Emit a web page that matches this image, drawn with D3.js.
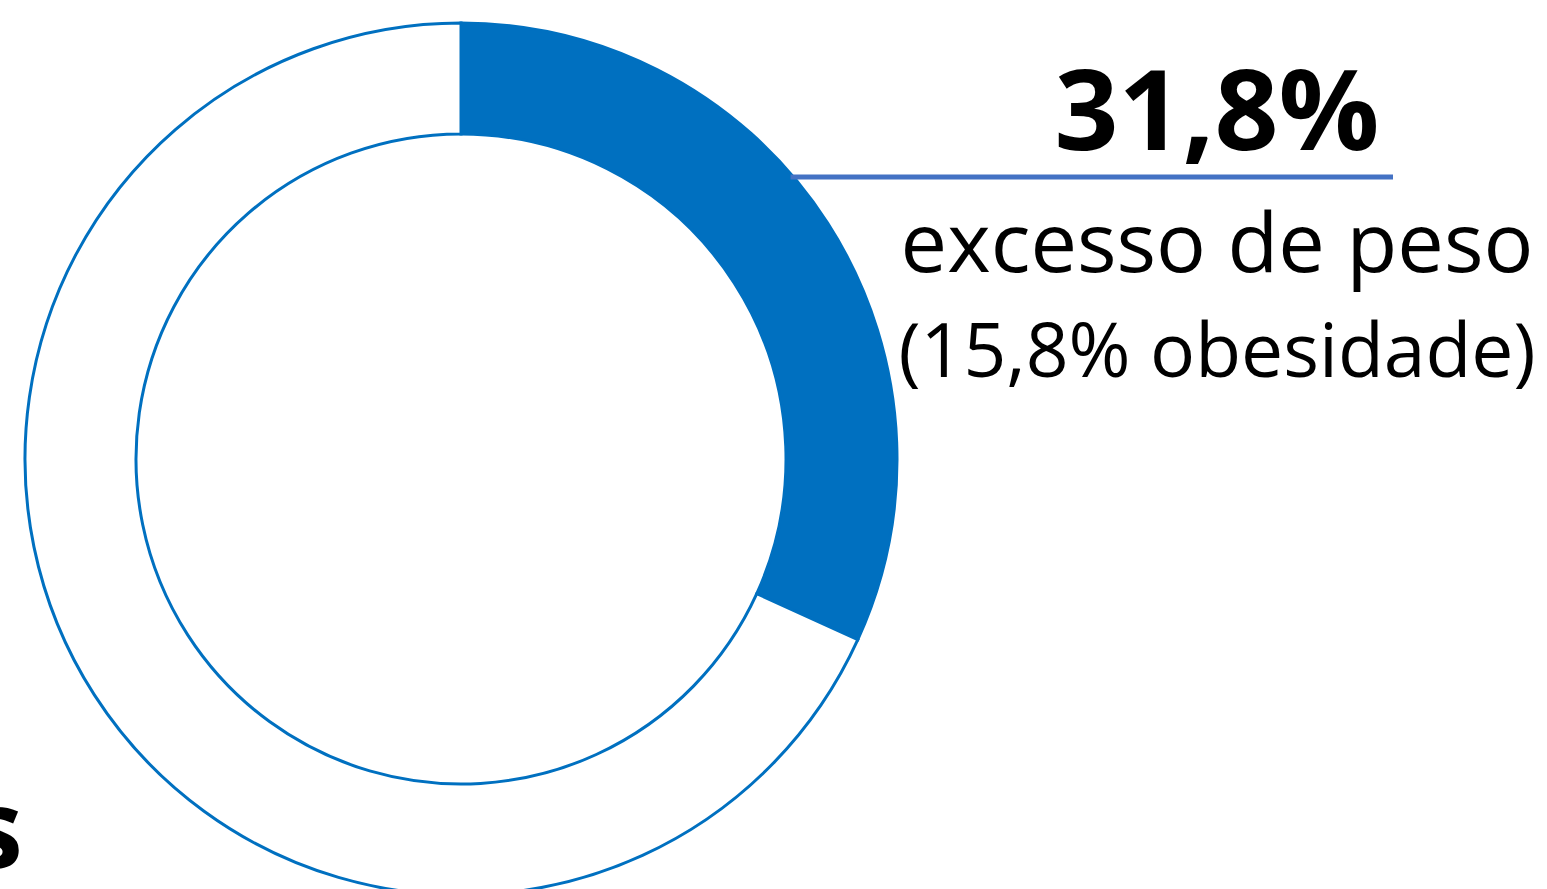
<!DOCTYPE html>
<html><head><meta charset="utf-8">
<script src="https://cdn.jsdelivr.net/npm/d3@7"></script>
<style>html,body{margin:0;padding:0;background:#fff;overflow:hidden}</style>
</head><body>
<svg id="c" width="1547" height="889"></svg>
<script>
const categories = ["excesso de peso", "restante"];
const values = [31.8, 68.2];
const obesity = 15.8;
const labelMain = "31,8%";
const labelLine1 = "excesso de peso";
const labelLine2 = "(15,8% obesidade)";
const sideTitle = "s";

const svg = d3.select("#c");
const cx = 461, cy = 459, rOut = 436, rIn = 325;
const blue = "#0070C0";

const pie = d3.pie().sort(null).value(d => d.v);
const arcs = pie(categories.map((c, i) => ({c, v: values[i]})));
const arc = d3.arc().innerRadius(rIn).outerRadius(rOut);
const g = svg.append("g").attr("transform", `translate(${cx},${cy})`);
g.selectAll("path").data(arcs).join("path")
  .attr("d", arc)
  .attr("fill", (d, i) => i === 0 ? blue : "#fff")
  .attr("stroke", blue)
  .attr("stroke-width", 3);

// leader line
const ly = 177;
const dy = ly - cy;
const lx0 = cx + Math.sqrt(rOut * rOut - dy * dy) - 3;
svg.append("line").attr("x1", lx0).attr("x2", 1393).attr("y1", ly).attr("y2", ly)
  .attr("stroke", "#4472C4").attr("stroke-width", 5);

const font = "'Open Sans', 'Noto Sans', sans-serif";
const tx = 1217;
svg.append("text").attr("x", tx).attr("y", 150).attr("text-anchor", "middle")
  .attr("font-family", font).attr("font-weight", 700).attr("font-size", 112)
  .text(labelMain);
svg.append("text").attr("x", tx).attr("y", 272).attr("text-anchor", "middle")
  .attr("font-family", font).attr("font-size", 83)
  .text(labelLine1);
svg.append("text").attr("x", tx).attr("y", 377).attr("text-anchor", "middle")
  .attr("font-family", font).attr("font-size", 75)
  .text(labelLine2);
svg.append("text").attr("x", 23).attr("y", 868).attr("text-anchor", "end")
  .attr("font-family", font).attr("font-weight", 700).attr("font-size", 110)
  .text(sideTitle);
</script>
</body></html>
